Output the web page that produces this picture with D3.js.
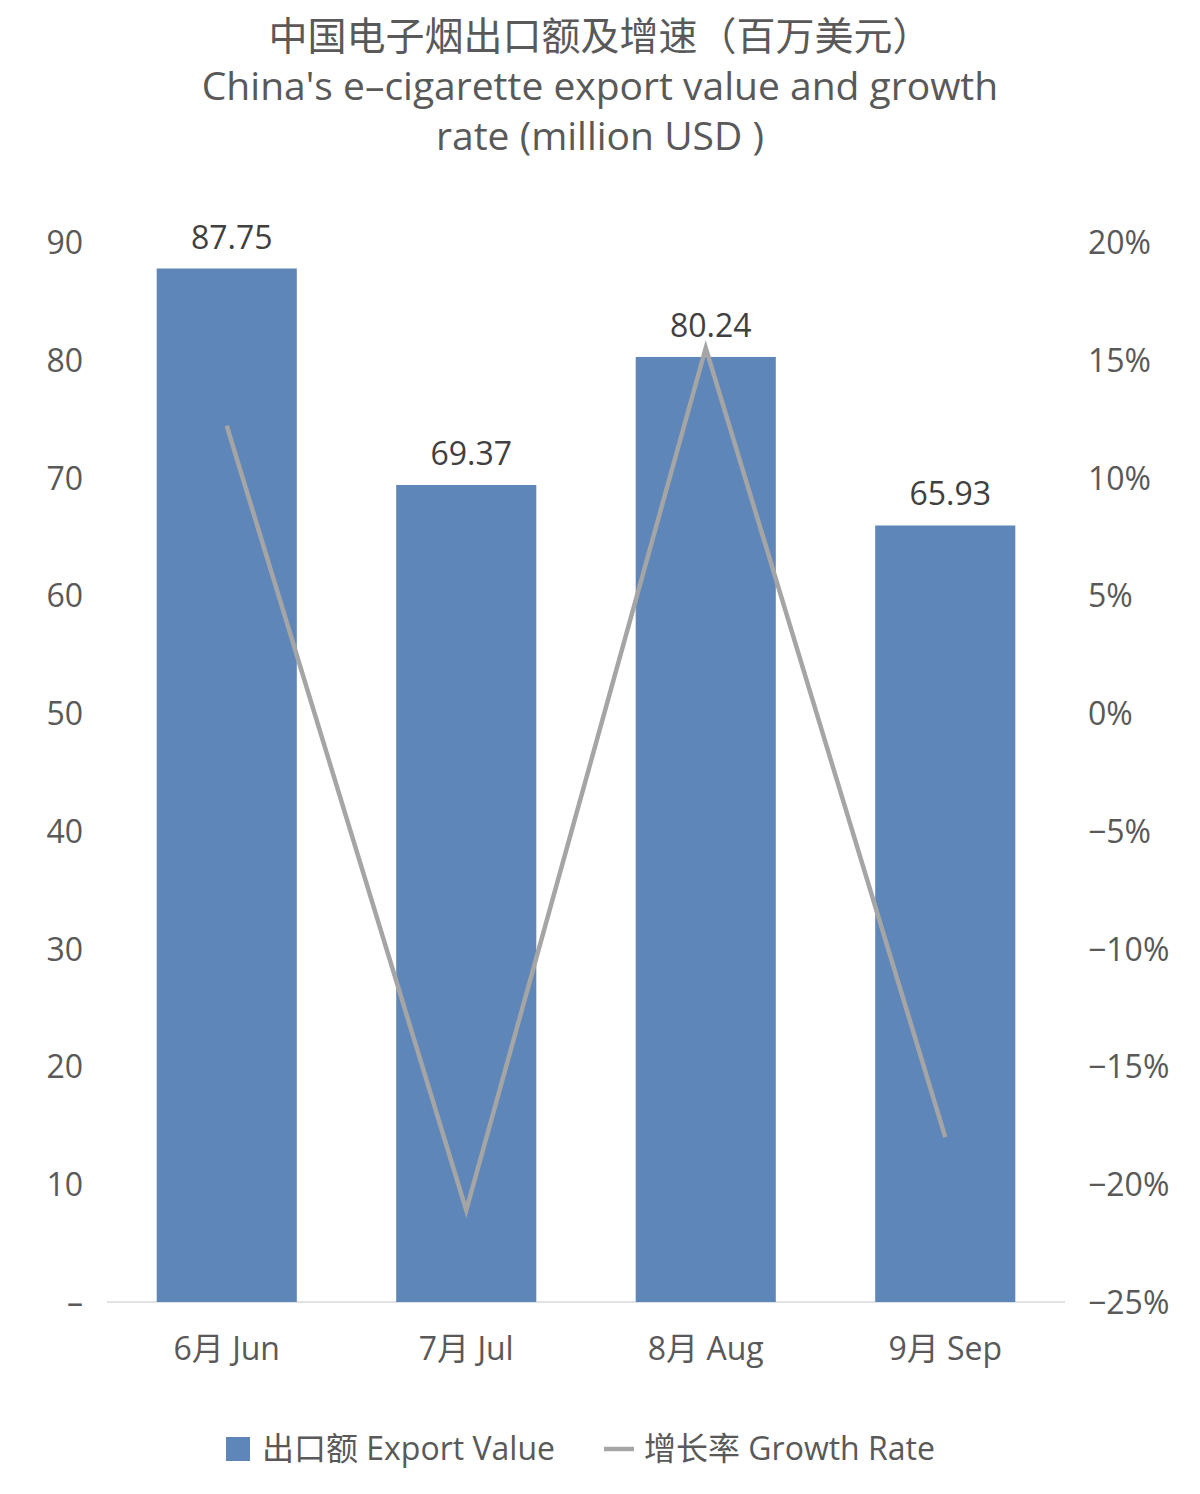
<!DOCTYPE html>
<html><head><meta charset="utf-8">
<script src="https://cdn.jsdelivr.net/npm/d3@7"></script>
<style>body{margin:0;background:#fff}text{font-family:"Open Sans","Noto Sans CJK SC",sans-serif}</style>
</head><body><svg id="c" width="1200" height="1494"></svg>
<script>
const months = ["6月 Jun", "7月 Jul", "8月 Aug", "9月 Sep"];
const exportValue = [87.75, 69.37, 80.24, 65.93];
const growthRate = [12.2, -21.1, 15.5, -18.0];
const leftTicks = [0, 10, 20, 30, 40, 50, 60, 70, 80, 90];
const rightTicks = [-25, -20, -15, -10, -5, 0, 5, 10, 15, 20];

const svg = d3.select("#c");
const M = { left: 107, right: 1065, top: 242, bottom: 1302 };
const grey = "#595959";

const x = d3.scaleBand().domain(months).range([M.left, M.right]).paddingInner(0.415).paddingOuter(0.2075);
const y = d3.scaleLinear().domain([0, 90]).range([M.bottom, M.top]);
const y2 = d3.scaleLinear().domain([-25, 20]).range([M.bottom, M.top]);

// title
[["中国电子烟出口额及增速（百万美元）", 50], ["China's e–cigarette export value and growth", 100], ["rate (million USD )", 150]]
  .forEach(([t, yy]) => svg.append("text").attr("x", 600).attr("y", yy).attr("text-anchor", "middle")
    .attr("font-size", 39).attr("fill", grey).text(t));

// axes labels
svg.selectAll(".lt").data(leftTicks).join("text")
  .attr("x", 83).attr("y", d => y(d) + 12).attr("text-anchor", "end")
  .attr("font-size", 32).attr("fill", grey).text(d => d === 0 ? "–" : d);
svg.selectAll(".rt").data(rightTicks).join("text")
  .attr("x", 1088).attr("y", d => y2(d) + 12)
  .attr("font-size", 32).attr("fill", grey).text(d => (d < 0 ? "−" + (-d) : d) + "%");

svg.append("line").attr("x1", M.left).attr("x2", M.right).attr("y1", M.bottom).attr("y2", M.bottom)
  .attr("stroke", "#d9d9d9").attr("stroke-width", 1.5);

// bars
svg.selectAll(".bar").data(months).join("rect")
  .attr("x", d => x(d)).attr("width", x.bandwidth())
  .attr("y", (d, i) => y(exportValue[i])).attr("height", (d, i) => M.bottom - y(exportValue[i]))
  .attr("fill", "#5e86b8");

svg.selectAll(".bl").data(months).join("text")
  .attr("x", d => x(d) + x.bandwidth() / 2 + 5).attr("y", (d, i) => y(exportValue[i]) - 20)
  .attr("text-anchor", "middle").attr("font-size", 32).attr("fill", "#404040")
  .text((d, i) => exportValue[i].toFixed(2));

svg.selectAll(".xl").data(months).join("text")
  .attr("x", d => x(d) + x.bandwidth() / 2).attr("y", 1360)
  .attr("text-anchor", "middle").attr("font-size", 32).attr("fill", grey).text(d => d);

// line
const line = d3.line().x((d, i) => x(months[i]) + x.bandwidth() / 2).y(d => y2(d));
svg.append("path").datum(growthRate).attr("d", line).attr("fill", "none")
  .attr("stroke", "#a5a5a5").attr("stroke-width", 4.5);

// legend
svg.append("rect").attr("x", 226).attr("y", 1437).attr("width", 24).attr("height", 24).attr("fill", "#5e86b8");
svg.append("text").attr("x", 262).attr("y", 1460).attr("font-size", 32).attr("fill", grey).text("出口额 Export Value");
svg.append("line").attr("x1", 604).attr("x2", 634).attr("y1", 1449).attr("y2", 1449).attr("stroke", "#a5a5a5").attr("stroke-width", 4.5);
svg.append("text").attr("x", 644).attr("y", 1460).attr("font-size", 32).attr("fill", grey).text("增长率 Growth Rate");
</script></body></html>
